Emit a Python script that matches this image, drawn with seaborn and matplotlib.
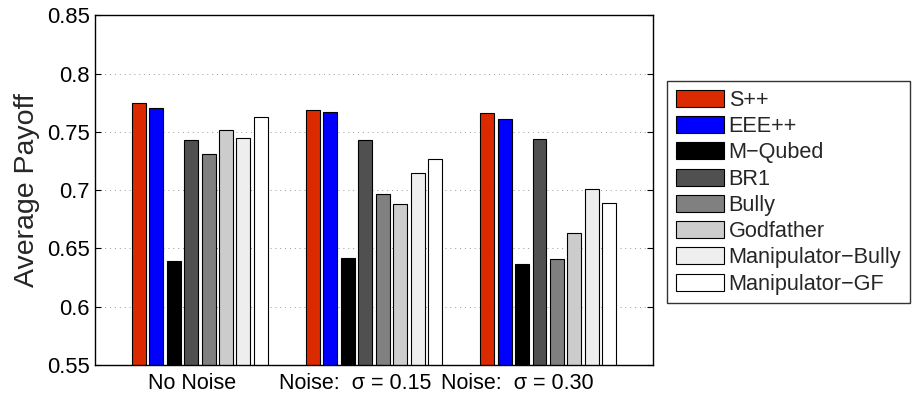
import numpy as np
import pandas as pd
import matplotlib
matplotlib.use('Agg')
import matplotlib.pyplot as plt
import matplotlib.transforms as mtransforms
import seaborn as sns

conditions = ['No Noise', 'Noise:  σ = 0.15', 'Noise:  σ = 0.30']
algorithms = ['S++', 'EEE++', 'M−Qubed', 'BR1', 'Bully', 'Godfather',
              'Manipulator−Bully', 'Manipulator−GF']
colors = ['#dc2a00', '#0000ff', '#000000', '#505050', '#808080', '#cccccc',
          '#eeeeee', '#ffffff']

no_noise = [0.775, 0.771, 0.639, 0.743, 0.731, 0.752, 0.745, 0.763]
noise_015 = [0.769, 0.767, 0.642, 0.743, 0.697, 0.688, 0.715, 0.727]
noise_030 = [0.766, 0.761, 0.637, 0.744, 0.641, 0.663, 0.701, 0.689]

yticks = [0.55, 0.6, 0.65, 0.7, 0.75, 0.8, 0.85]

rows = []
for cond, vals in zip(conditions, [no_noise, noise_015, noise_030]):
    for alg, v in zip(algorithms, vals):
        rows.append({'condition': cond, 'algorithm': alg, 'payoff': v})
df = pd.DataFrame(rows)

sns.set_style('white')
plt.rcParams['font.family'] = ['Liberation Sans', 'DejaVu Sans']

fig = plt.figure(figsize=(9.14, 3.94), dpi=100)
ax = fig.add_axes([0.1043, 0.0736, 0.6098, 0.8871])

sns.barplot(data=df, x='condition', y='payoff', hue='algorithm',
            order=conditions, hue_order=algorithms, palette=colors,
            saturation=1, width=0.8, gap=0.2, errorbar=None,
            edgecolor='black', linewidth=0.8, ax=ax)

ax.set_ylim(0.55, 0.85)
ax.set_xlim(-0.6, 2.6)
ax.set_yticks(yticks)
ax.set_yticklabels([f'{v:g}' for v in yticks])
ax.set_xlabel('')
ax.set_ylabel('Average Payoff', fontsize=20.5, labelpad=5)

ax.yaxis.grid(True, linestyle=(0, (1, 4)), color='#999999', linewidth=0.7)
ax.xaxis.grid(False)
ax.set_axisbelow(True)

for s in ax.spines.values():
    s.set_color('black')
    s.set_linewidth(1.0)

ax.tick_params(axis='y', direction='in', left=True, right=True, length=4,
               width=0.8, labelsize=15.8, pad=4, colors='black')
ax.tick_params(axis='x', length=0, labelsize=15.5, pad=5.5, colors='black')

# MATLAB-ish placement of the group labels
for lab, dx in zip(ax.get_xticklabels(), [-8, -19, -31]):
    off = mtransforms.ScaledTranslation(dx / 100, 0, fig.dpi_scale_trans)
    lab.set_transform(lab.get_transform() + off)

handles, labels = ax.get_legend_handles_labels()
ax.get_legend().remove()
for h in handles:
    h.set_edgecolor('black')
    h.set_linewidth(0.8)
leg = fig.legend(handles, labels, loc='upper left',
                 bbox_to_anchor=(0.7297, 0.7944), bbox_transform=fig.transFigure,
                 frameon=True, fancybox=False, edgecolor='black', fontsize=15.6,
                 handlelength=2.25, handleheight=0.84, labelspacing=0.24,
                 borderpad=0.4, handletextpad=0.2, borderaxespad=0)
leg.get_frame().set_linewidth(1.0)

fig.savefig('out.png', dpi=100)
